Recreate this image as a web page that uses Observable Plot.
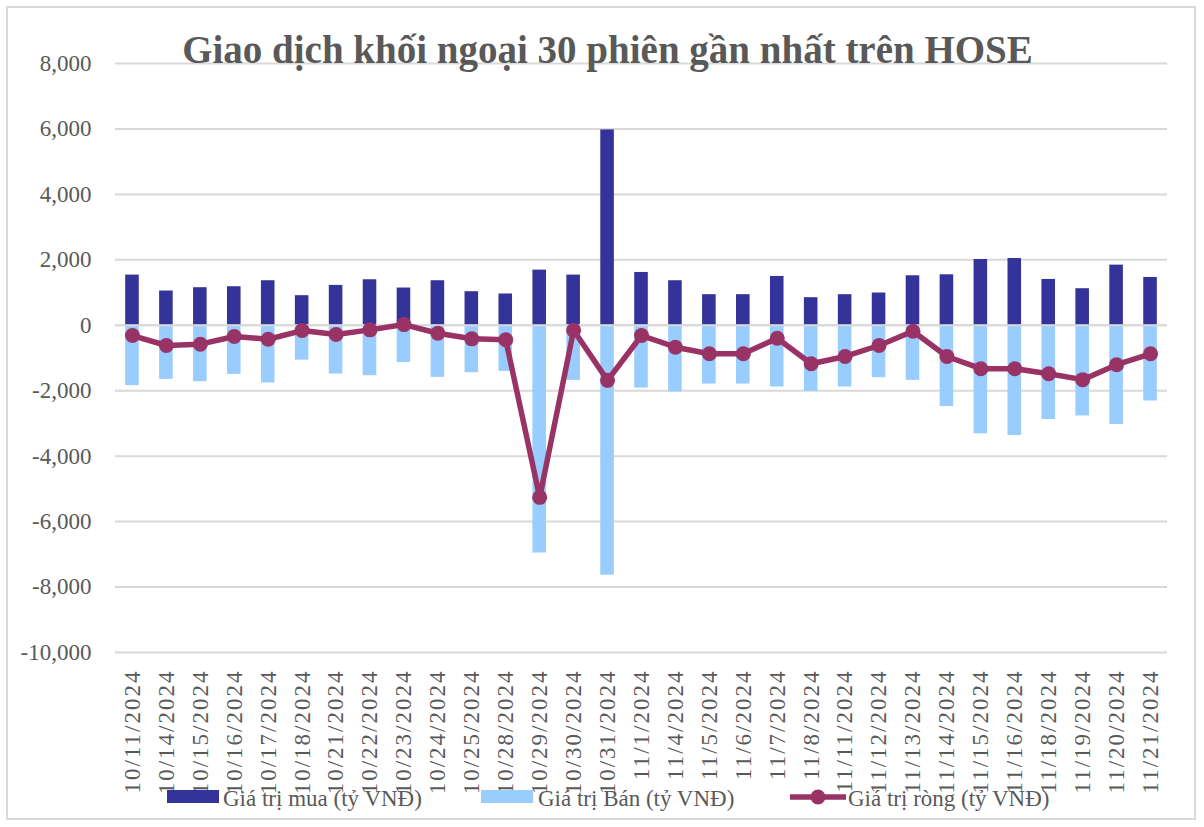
<!DOCTYPE html>
<html><head><meta charset="utf-8">
<script src="https://cdn.jsdelivr.net/npm/d3@7"></script>
<script src="https://cdn.jsdelivr.net/npm/@observablehq/plot@0.6"></script>
<style>
body{margin:0;background:#fff;}
#wrap{position:relative;width:1204px;height:827px;overflow:hidden;background:#fff;}
#frame{position:absolute;left:6px;top:6px;width:1190px;height:814px;border:2px solid #d9d9d9;box-sizing:border-box;}
#chart{position:absolute;left:0;top:0;}
#over{position:absolute;left:0;top:0;}
#chart g[aria-label="x-axis tick label"] text{letter-spacing:2px;}
</style></head><body>
<div id="wrap"><div id="frame"></div><div id="chart"></div><svg id="over" width="1204" height="827"></svg></div>
<script>
const dates = ["10/11/2024","10/14/2024","10/15/2024","10/16/2024","10/17/2024","10/18/2024","10/21/2024","10/22/2024","10/23/2024","10/24/2024","10/25/2024","10/28/2024","10/29/2024","10/30/2024","10/31/2024","11/1/2024","11/4/2024","11/5/2024","11/6/2024","11/7/2024","11/8/2024","11/11/2024","11/12/2024","11/13/2024","11/14/2024","11/15/2024","11/16/2024","11/18/2024","11/19/2024","11/20/2024","11/21/2024"];
const buy = [1534,1047,1148,1178,1361,904,1218,1391,1138,1361,1026,956,1686,1534,5970,1614,1361,935,935,1492,843,935,986,1513,1543,2009,2040,1400,1117,1838,1461];
const sell = [-1845,-1653,-1723,-1501,-1765,-1065,-1492,-1541,-1136,-1592,-1449,-1409,-6960,-1683,-7636,-1918,-2040,-1796,-1796,-1887,-2018,-1887,-1601,-1683,-2484,-3318,-3367,-2880,-2770,-3032,-2314];
const net = [-313,-618,-578,-344,-426,-161,-283,-140,21,-244,-414,-444,-5259,-150,-1683,-313,-670,-871,-871,-396,-1175,-953,-618,-183,-953,-1327,-1327,-1480,-1662,-1205,-871];
const yTicks = [8000,6000,4000,2000,0,-2000,-4000,-6000,-8000,-10000];
const titleText = "Giao dịch khối ngoại 30 phiên gần nhất trên HOSE";
const legendLabels = ["Giá trị mua (tỷ VNĐ)","Giá trị Bán (tỷ VNĐ)","Giá trị ròng (tỷ VNĐ)"];
const colors = ["#333399","#99CCFF","#993366"];

const rows = dates.map((d,i)=>({date:d,buy:buy[i],sell:sell[i],net:net[i]}));
const font = "'Liberation Serif', serif";
const plot = Plot.plot({
  width:1204, height:827, marginTop:63, marginBottom:175, marginLeft:115, marginRight:37,
  style:{fontFamily:font, fontSize:"23px", color:"#595959", background:"transparent", overflow:"visible"},
  x:{domain:dates, paddingInner:0.6, paddingOuter:0.3, round:false, label:null},
  y:{domain:[-10000,8000], label:null},
  marks:[
    Plot.ruleY(yTicks,{stroke:"#d9d9d9",strokeWidth:2}),
    Plot.barY(rows,{x:"date",y1:0,y2:"sell",fill:colors[1]}),
    Plot.barY(rows,{x:"date",y1:0,y2:"buy",fill:colors[0]}),
    Plot.ruleY([0],{stroke:"#d9d9d9",strokeWidth:2}),
    Plot.axisY({ticks:yTicks,tickSize:0,tickPadding:24,tickFormat:d=>d.toLocaleString("en-US"),fill:"#595959",label:null}),
    Plot.axisX({tickRotate:-90,tickSize:0,tickPadding:17,fill:"#595959",label:null}),
    Plot.line(rows,{x:"date",y:"net",stroke:colors[2],strokeWidth:5.5}),
    Plot.dot(rows,{x:"date",y:"net",fill:colors[2],r:7.5})
  ]
});
document.getElementById("chart").appendChild(plot);

const over = d3.select("#over");
over.append("text").attr("x",607.5).attr("y",63).attr("text-anchor","middle")
  .attr("font-family",font).attr("font-weight","bold").attr("font-size",39).attr("fill","#595959").text(titleText);

const lg = [
  {sx:167, tx:223},
  {sx:481, tx:538},
  {sx:790, tx:848}
];
lg.forEach((p,i)=>{
  if(i<2){
    over.append("rect").attr("x",p.sx).attr("y",790).attr("width",52).attr("height",13).attr("fill",colors[i]);
  } else {
    over.append("line").attr("x1",p.sx).attr("x2",p.sx+56).attr("y1",797).attr("y2",797).attr("stroke",colors[2]).attr("stroke-width",5.5);
    over.append("circle").attr("cx",p.sx+28).attr("cy",797).attr("r",7.5).attr("fill",colors[2]);
  }
  over.append("text").attr("x",p.tx).attr("y",806).attr("font-family",font).attr("font-size",23).attr("fill","#595959").text(legendLabels[i]);
});
</script>
</body></html>
